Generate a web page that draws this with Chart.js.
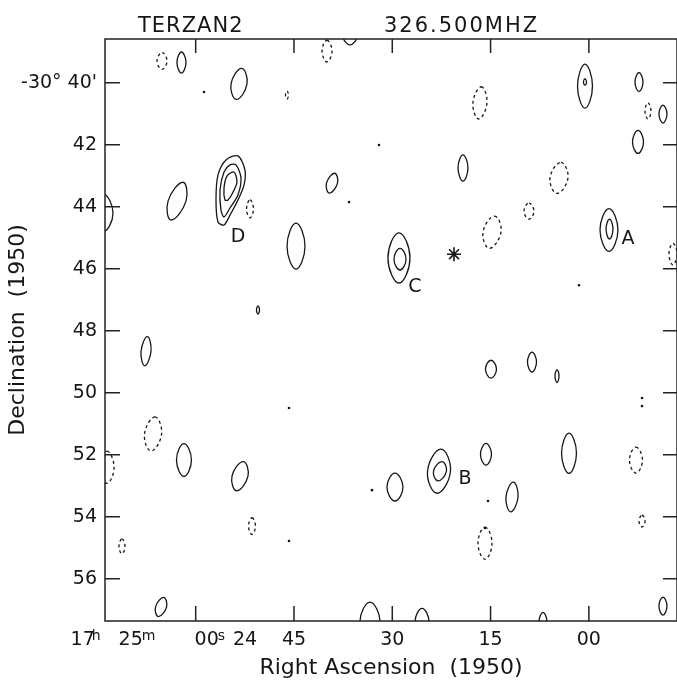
<!DOCTYPE html>
<html>
<head>
<meta charset="utf-8">
<script src="https://cdn.jsdelivr.net/npm/chart.js@4.4.1/dist/chart.umd.min.js"></script>
<style>
  html, body { margin: 0; padding: 0; background: #fff; }
  canvas { display: block; }
</style>
</head>
<body>
<canvas id="map" width="677" height="686"></canvas>
<script>
// x = RA in seconds after 17h23m00s (120 = 17h25m00s), y = Dec in arcmin below -30 deg
const raMin = 46.55, raMax = 133.84;
const decMin = 38.59, decMax = 57.36;
const raTicks = [120, 105, 90, 75, 60];
const decTicks = [40, 42, 44, 46, 48, 50, 52, 54, 56];

// contour blobs: [ra, dec, half width (s), half height ('), shift of the top (s)]
const solidContours = [
    [122.17, 39.35, 0.69, 0.34, 0],
    [113.39, 40.04, 1.22, 0.50, -0.4],
    [96.45, 38.49, 1.07, 0.29, 0],
    [60.59, 40.11, 1.14, 0.71, 0],
    [60.59, 39.98, 0.23, 0.10, 0],
    [52.35, 39.98, 0.61, 0.31, 0],
    [48.69, 41.01, 0.61, 0.29, 0],
    [52.50, 41.91, 0.84, 0.37, 0],
    [56.93, 44.75, 1.37, 0.69, 0],   // A
    [56.85, 44.72, 0.53, 0.32, 0],
    [122.85, 43.82, 1.37, 0.61, -0.9],
    [104.69, 45.27, 1.37, 0.74, 0],
    [99.20, 43.24, 0.84, 0.32, -0.4],
    [88.98, 45.65, 1.68, 0.81, 0],   // C
    [88.82, 45.69, 0.92, 0.35, 0],
    [134.15, 44.20, 1.53, 0.61, 0],
    [110.49, 47.33, 0.23, 0.13, 0],
    [127.58, 48.66, 0.76, 0.47, -0.2],
    [121.79, 52.17, 1.14, 0.53, 0],
    [113.24, 52.69, 1.22, 0.47, -0.5],
    [125.29, 56.91, 0.84, 0.31, -0.4],
    [93.40, 57.40, 1.53, 0.65, 0],
    [85.46, 57.40, 1.07, 0.45, 0],
    [67.00, 57.40, 0.61, 0.32, 0],
    [48.69, 56.88, 0.61, 0.29, 0],
    [89.59, 53.04, 1.22, 0.45, 0],
    [82.87, 52.53, 1.75, 0.71, -0.3], // B
    [82.72, 52.53, 0.99, 0.31, -0.3],
    [75.70, 51.98, 0.84, 0.35, 0],
    [71.73, 53.36, 0.92, 0.48, -0.2],
    [63.03, 51.95, 1.14, 0.65, 0],
    [79.21, 42.75, 0.76, 0.42, 0],
    [74.94, 49.24, 0.84, 0.29, 0],
    [68.68, 49.01, 0.69, 0.32, 0],
    [64.86, 49.46, 0.31, 0.21, 0]
];
const dashedContours = [
    [125.14, 39.30, 0.76, 0.27, 0],
    [99.96, 38.98, 0.76, 0.35, 0],
    [106.07, 40.40, 0.23, 0.13, 0],
    [76.62, 40.65, 1.07, 0.52, -0.2],
    [50.98, 40.91, 0.46, 0.26, 0],
    [64.56, 43.07, 1.37, 0.50, -0.3],
    [69.14, 44.14, 0.76, 0.26, 0],
    [74.78, 44.82, 1.37, 0.52, -0.4],
    [47.16, 45.53, 0.61, 0.35, 0],
    [111.71, 44.07, 0.53, 0.29, 0],
    [126.51, 51.33, 1.30, 0.55, -0.3],
    [133.53, 52.40, 1.07, 0.52, 0],
    [111.41, 54.30, 0.53, 0.27, 0],
    [131.25, 54.95, 0.46, 0.24, 0],
    [52.81, 52.17, 0.99, 0.42, 0],
    [51.89, 54.14, 0.46, 0.19, 0],
    [75.85, 54.85, 1.07, 0.52, 0]
];
// source D: three nested rings traced point by point
const ringsD = [
    [[113.55, 42.36], [112.48, 42.82], [112.63, 43.30], [113.55, 43.78], [114.77, 44.27],
     [115.68, 44.59], [116.60, 44.49], [116.90, 43.78], [116.60, 42.98], [115.38, 42.49]],
    [[113.85, 42.65], [113.09, 43.07], [113.55, 43.62], [114.77, 44.04], [115.68, 44.33],
     [116.14, 44.11], [116.29, 43.46], [115.68, 42.88], [114.77, 42.65]],
    [[114.16, 42.88], [113.70, 43.20], [114.31, 43.53], [115.07, 43.78], [115.53, 43.78],
     [115.68, 43.40], [115.22, 43.01]]
];
const peakRa = [118.73, 92.03, 96.60, 61.51, 105.76, 105.76, 75.39, 75.85, 93.10, 51.89, 51.89];
const peakDec = [40.30, 42.01, 43.85, 46.53, 50.49, 54.78, 53.49, 54.36, 53.14, 50.17, 50.43];
const starRa = 80.58, starDec = 45.53;
const srcNames = ['A', 'B', 'C', 'D'];
const srcRa = [54.03, 78.90, 86.54, 113.55];
const srcDec = [45.04, 52.78, 46.59, 44.98];

const FONT = '"DejaVu Sans", sans-serif';
const INK = '#161616';

function outline(c) {
    const [ra, dec, hw, hh, tilt] = c;
    return [
        { x: ra + tilt, y: dec - hh },
        { x: ra - hw, y: dec },
        { x: ra - tilt, y: dec + hh },
        { x: ra + hw, y: dec }
    ];
}

function ringSet(points, dashed, tension) {
    return {
        ring: true,
        data: points,
        showLine: true,
        tension: tension,
        borderColor: INK,
        borderWidth: 1.3,
        borderDash: dashed ? [3, 3] : [],
        pointRadius: 0,
        fill: false
    };
}

const datasets = [];
solidContours.forEach(c => datasets.push(ringSet(outline(c), false, 0.45)));
dashedContours.forEach(c => datasets.push(ringSet(outline(c), true, 0.45)));
ringsD.forEach(r => datasets.push(ringSet(r.map(p => ({ x: p[0], y: p[1] })), false, 0.3)));
datasets.push({
    data: peakRa.map((r, i) => ({ x: r, y: peakDec[i] })),
    pointRadius: 1.3,
    pointBackgroundColor: INK,
    pointBorderWidth: 0
});
datasets.push({
    data: [{ x: starRa, y: starDec }],
    pointStyle: 'star',
    pointRadius: 7,
    pointBorderColor: INK,
    pointBorderWidth: 1.6
});

// contours are closed loops, let the line element join the ends smoothly
const closeRings = {
    id: 'closeRings',
    afterDatasetUpdate(chart, args) {
        const ds = chart.data.datasets[args.index];
        if (ds.ring && args.meta.dataset) {
            args.meta.dataset._loop = true;
            args.meta.dataset._fullLoop = true;
        }
    }
};

const frame = {
    id: 'frame',
    afterDraw(chart) {
        const { ctx, chartArea: a, scales: { x, y } } = chart;
        ctx.save();
        ctx.strokeStyle = '#222';
        ctx.lineWidth = 1.5;
        ctx.strokeRect(a.left, a.top, a.right - a.left, a.bottom - a.top);
        ctx.beginPath();
        raTicks.forEach(v => {
            const px = x.getPixelForValue(v);
            ctx.moveTo(px, a.bottom); ctx.lineTo(px, a.bottom - 15);
            ctx.moveTo(px, a.top); ctx.lineTo(px, a.top + 14);
        });
        decTicks.forEach(v => {
            const py = y.getPixelForValue(v);
            ctx.moveTo(a.left, py); ctx.lineTo(a.left + 15, py);
            ctx.moveTo(a.right, py); ctx.lineTo(a.right - 14, py);
        });
        ctx.stroke();

        ctx.fillStyle = INK;
        // source letters
        ctx.font = '19px ' + FONT;
        ctx.textAlign = 'center';
        ctx.textBaseline = 'middle';
        srcNames.forEach((n, i) => ctx.fillText(n, x.getPixelForValue(srcRa[i]), y.getPixelForValue(srcDec[i])));

        // RA tick labels with h/m/s superscripts
        const base = a.bottom + 24;
        const big = '19px ' + FONT, sup = '14px ' + FONT;
        const put = (t, px, font, align, yy) => {
            ctx.font = font; ctx.textAlign = align; ctx.textBaseline = 'alphabetic';
            ctx.fillText(t, px, yy);
        };
        const p0 = x.getPixelForValue(raTicks[0]);
        const p1 = x.getPixelForValue(raTicks[1]);
        put('17', p0 - 113, big, 'center', base);
        put('h', p0 - 104, sup, 'left', base - 5);
        put('25', p0 - 65, big, 'center', base);
        put('m', p0 - 54, sup, 'left', base - 5);
        put('00', p0 + 11, big, 'center', base);
        put('s', p0 + 22, sup, 'left', base - 5);
        put('24', p1 - 49, big, 'center', base);
        put('45', p1, big, 'center', base);
        put('30', x.getPixelForValue(raTicks[2]), big, 'center', base);
        put('15', x.getPixelForValue(raTicks[3]), big, 'center', base);
        put('00', x.getPixelForValue(raTicks[4]), big, 'center', base);

        // header
        ctx.font = '21px ' + FONT;
        ctx.textAlign = 'left';
        ctx.letterSpacing = '1px';
        ctx.fillText('TERZAN2', a.left + 33, a.top - 7);
        ctx.letterSpacing = '2px';
        ctx.fillText('326.500MHZ', a.left + 279, a.top - 7);
        ctx.restore();
    }
};

new Chart(document.getElementById('map'), {
    type: 'scatter',
    data: { datasets },
    options: {
        responsive: false,
        animation: false,
        events: [],
        layout: { padding: { top: 39, left: 0, right: 0, bottom: 0 }, autoPadding: false },
        plugins: { legend: { display: false }, tooltip: { enabled: false } },
        elements: { line: { capBezierPoints: false } },
        scales: {
            x: {
                type: 'linear',
                reverse: true,
                min: raMin,
                max: raMax,
                grid: { display: false, drawTicks: false },
                border: { display: false },
                ticks: { display: false },
                title: {
                    display: true,
                    text: 'Right Ascension  (1950)',
                    color: INK,
                    font: { family: FONT, size: 22 },
                    padding: { top: 0, bottom: 5 }
                },
                afterFit: s => { s.height = 65; }
            },
            y: {
                type: 'linear',
                reverse: true,
                min: decMin,
                max: decMax,
                grid: { display: false, drawTicks: false },
                border: { display: false },
                afterBuildTicks: s => { s.ticks = decTicks.map(v => ({ value: v })); },
                ticks: {
                    callback: v => v === 40 ? "-30° 40'" : String(v),
                    color: INK,
                    font: { family: FONT, size: 19 },
                    padding: 8
                },
                title: {
                    display: true,
                    text: 'Declination  (1950)',
                    color: INK,
                    font: { family: FONT, size: 22 },
                    padding: { top: 5, bottom: 0 }
                },
                afterFit: s => { s.width = 105; }
            }
        }
    },
    plugins: [closeRings, frame]
});
</script>
</body>
</html>
